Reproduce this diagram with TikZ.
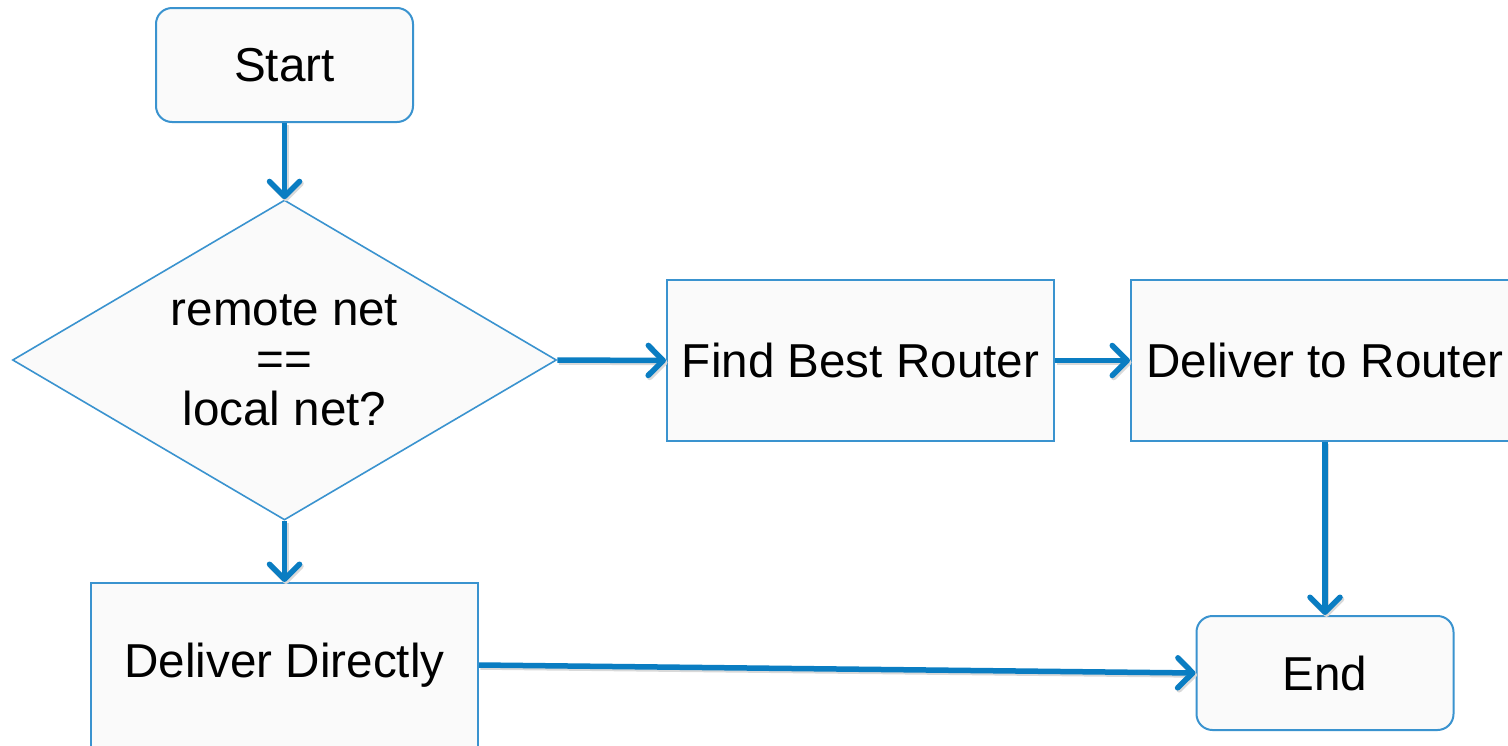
\documentclass[tikz,border=0pt]{standalone}
\usepackage{fontspec}
\setmainfont{Liberation Sans}
\usetikzlibrary{shapes.geometric,arrows.meta}

\definecolor{boxline}{HTML}{3A93CF}
\definecolor{flow}{HTML}{0A7DC2}
\definecolor{boxfill}{HTML}{FAFAFA}

\tikzset{
  label font/.style={font=\fontsize{47.6}{50}\selectfont},
  procbox/.style={draw=boxline, line width=2pt, fill=boxfill, inner sep=0pt,
    minimum width=387pt, minimum height=161pt, label font},
  termbox/.style={procbox, rounded corners=16pt, minimum width=257pt, minimum height=114pt},
  decision/.style={diamond, aspect=1.7, draw=boxline, line width=1.6pt, fill=boxfill, inner sep=0pt,
    minimum width=544pt, minimum height=320pt, align=center, label font},
  flowline/.style={draw=flow, line width=5.5pt,
    -{Straight Barb[length=15pt,width=30pt,round]},
    preaction={draw=black!15, line width=5.5pt, transform canvas={shift={(1.5pt,-2pt)}}}},
}

\begin{document}
\begin{tikzpicture}[x=1pt,y=-1pt]
  % page frame
  \fill[white] (0,0) rectangle (1508,745);
  \useasboundingbox (0,0) rectangle (1508,745);
  \clip (0,0) rectangle (1508,745);

  % flowchart nodes
  \node[termbox]  (start)  at (284.5,65)   {Start};
  \node[decision] (test)   at (284.5,360)  {remote net\\==\\local net?};
  \node[procbox]  (best)   at (860.5,360.5) {Find Best Router};
  \node[procbox, minimum width=388pt] (router) at (1325,360.5) {Deliver to Router};
  \node[procbox, minimum height=164pt] (direct) at (284.5,665) {Deliver Directly};
  \node[termbox]  (finish) at (1325,673)   {End};

  % connectors
  \draw[flowline] (start.south) -- (test.north);
  \draw[flowline] (test.south) -- (direct.north);
  \draw[flowline] (test.east) -- (best.west);
  \draw[flowline] (best.east) -- (router.west);
  \draw[flowline] (router.south) -- (finish.north);
  \draw[flowline] (direct.east) -- (finish.west);
\end{tikzpicture}
\end{document}
